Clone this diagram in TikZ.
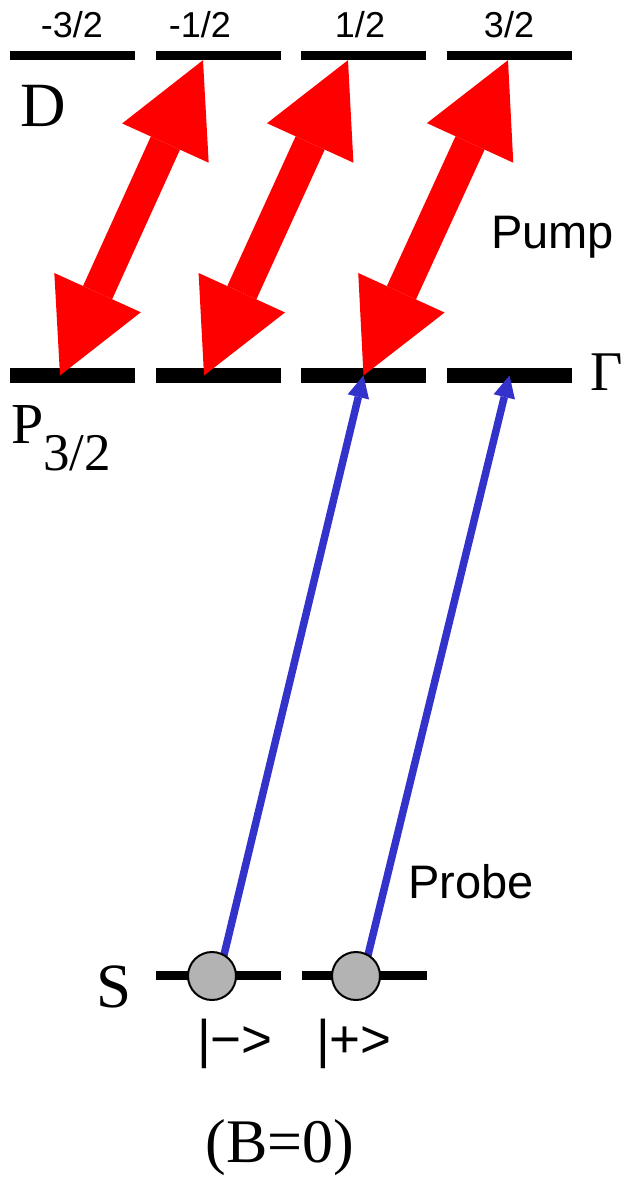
\documentclass[tikz,border=0pt]{standalone}
\usepackage{fontspec}
\setmainfont{Liberation Serif}
\newfontfamily\labelsans{Liberation Sans}
\usetikzlibrary{arrows.meta}

\definecolor{probeblue}{RGB}{51,51,204}
\definecolor{atomgray}{RGB}{179,179,179}

\begin{document}
\begin{tikzpicture}[x=1pt, y=-1pt,
    lvl/.style={rectangle, fill=black, inner sep=0pt, minimum width=125pt, minimum height=#1},
    lvl/.default=9pt,
    atom/.style={circle, draw=black, line width=2pt, fill=atomgray, minimum size=48pt, inner sep=0pt},
    pump/.style={{Triangle[length=91pt, width=95pt, line width=0pt]}-{Triangle[length=91pt, width=95pt, line width=0pt]}, line width=32pt, red},
    probe/.style={-{Triangle[length=22pt, width=22pt, line width=0pt]}, line width=7.5pt, probeblue},
    serif/.style={font=\fontsize{#1}{#1}\selectfont, inner sep=0pt},
    sans/.style={font=\labelsans\fontsize{#1}{#1}\selectfont, inner sep=0pt}
]
\useasboundingbox (0,0) rectangle (623,1177);

% Zeeman sublevels of D and P_{3/2}
\foreach \i/\x in {1/72.5, 2/218, 3/363.5, 4/509.5} {
    \node[lvl] (d\i) at (\x, 55.5) {};
    \node[lvl=15pt] (p\i) at (\x, 375.5) {};
}
\node[lvl] (s1) at (218.5, 975.5) {};
\node[lvl] (s2) at (364, 975.5) {};

\node[sans=36, anchor=base] (ma) at (72, 38) {-3/2};
\node[sans=36, anchor=base] (mb) at (200, 38) {-1/2};
\node[sans=36, anchor=base] (mc) at (360, 38) {1/2};
\node[sans=36, anchor=base] (md) at (509, 38) {3/2};

\node[serif=63, anchor=base west] (dlabel) at (20, 127) {D};
\node[serif=58, anchor=base west] (plabel) at (11, 443) {P\raisebox{-27pt}{\fontsize{53}{53}\selectfont 3/2}};
\node[serif=56, anchor=base west] (gamma) at (590, 390) {Γ};
\node[serif=63, anchor=base west] (slabel) at (96, 1007) {S};

% pump transitions
\draw[pump] ([xshift=-12.5pt]p1.center) -- ([xshift=-15pt]d2.south);
\draw[pump] ([xshift=-14pt]p2.center) -- ([xshift=-15.5pt]d3.south);
\draw[pump] (p3.center) -- ([xshift=-1.5pt]d4.south);
\node[sans=47, anchor=base west] (pumplabel) at (491, 248) {Pump};

% probe transitions from the ground states
\coordinate (sm) at (220.6, 969);
\coordinate (sp) at (364.6, 969);
\draw[probe] (sm) -- (p3.center);
\draw[probe] (sp) -- (p4.center);
\node[sans=47, anchor=base west] (probelabel) at (408, 898) {Probe};

\node[atom] (am) at (212, 976) {};
\node[atom] (ap) at (356, 976) {};

\node[sans=53, anchor=base] (ketm) at (235, 1057) {|−>};
\node[sans=53, anchor=base] (ketp) at (354, 1057) {|+>};

\node[serif=62, anchor=base] (bfield) at (280, 1162) {(B=0)};

\end{tikzpicture}
\end{document}
